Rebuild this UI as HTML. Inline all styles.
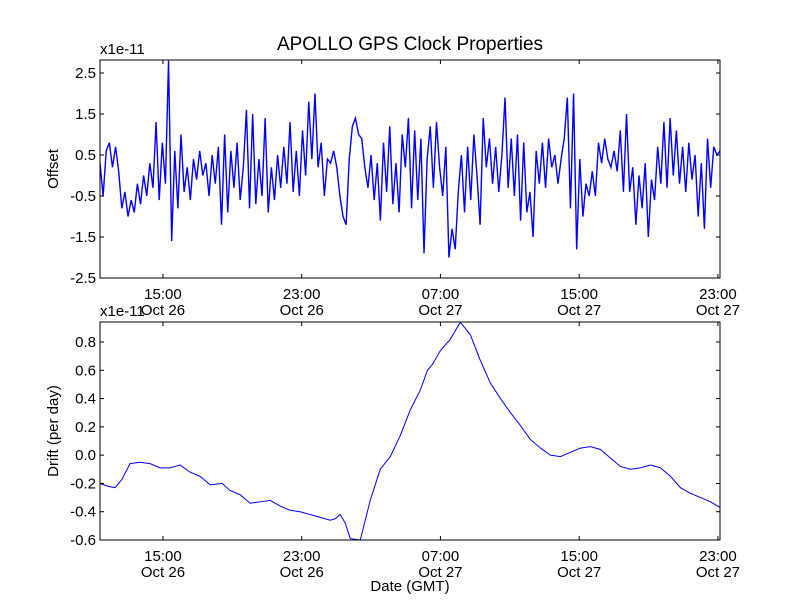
<!DOCTYPE html>
<html><head><meta charset="utf-8"><style>
body{margin:0;background:#fff}
svg text{font-family:"Liberation Sans","DejaVu Sans",sans-serif;fill:#000}
</style></head><body>
<svg id="chart" width="800" height="600" viewBox="0 0 800 600" xmlns="http://www.w3.org/2000/svg">
<rect width="800" height="600" fill="#fff"/>
<text x="410" y="50" font-size="19" text-anchor="middle">APOLLO GPS Clock Properties</text>
<g id="top"></g>
<g id="bot"></g>
<text x="410" y="591" font-size="15" text-anchor="middle">Date (GMT)</text>
</svg>
<script>
const offsetValues=[0.3,-0.5,0.6,0.8,0.2,0.7,0.1,-0.8,-0.4,-1.0,
-0.6,-0.9,-0.2,-0.7,0.0,-0.5,0.3,-0.3,1.3,-0.6,
0.8,-0.2,2.8,-1.6,0.6,-0.8,1.0,-0.4,0.2,-0.6,
0.4,-0.1,0.6,0.0,0.3,-0.5,0.5,-0.2,0.7,-1.2,
1.0,-0.9,0.6,-0.3,0.8,-0.6,0.2,1.6,-0.8,1.5,
-0.7,0.4,-0.5,1.4,-0.9,0.2,-0.6,0.5,-0.3,0.7,
-0.2,1.3,-0.4,0.6,-0.5,1.1,0.0,1.8,0.4,2.0,
0.2,0.8,-0.5,0.4,0.3,0.6,0.2,-0.5,-1.0,-1.2,
0.4,1.2,1.4,1.0,0.9,0.2,-0.3,0.5,-0.6,0.3,
-1.1,0.8,-0.4,1.2,-0.7,0.3,-0.9,1.0,0.2,1.4,
-0.8,1.1,-0.6,0.9,-1.9,0.4,1.2,-0.3,1.3,0.2,
-0.5,0.7,-2.0,-1.3,-1.8,-0.4,0.5,-0.9,0.7,-0.6,
1.0,0.0,-1.2,1.4,0.2,0.9,-0.2,0.7,-0.4,0.5,
1.9,-0.3,0.9,-0.5,1.0,-1.1,0.8,-0.9,-0.4,-1.5,
0.6,-0.2,0.8,-0.3,0.9,0.2,0.5,-0.2,0.4,0.9,
1.9,-0.8,2.0,-1.8,0.4,-1.0,-0.2,-0.5,0.1,-0.5,
0.8,0.3,0.9,0.4,0.2,0.6,0.1,1.1,-0.4,1.5,
-0.4,0.2,-1.2,0.0,-0.8,0.3,-1.5,-0.1,-0.6,0.7,
-0.2,1.3,-0.3,1.4,0.0,1.1,-0.2,0.7,-0.4,0.8,
-0.1,0.5,-1.0,0.3,-1.3,0.9,-0.3,0.7,0.5,0.6];
// drift: hours since Oct 26 00:00, value (x1e-11)
const driftHours=[11.37,11.83,12.24,12.64,13.1,13.68,14.26,14.83,15.41,15.99,16.56,17.14,17.72,18.41,18.87,19.45,20.03,20.6,21.18,21.76,22.33,22.91,23.49,24.07,24.64,24.93,25.22,25.51,25.8,26.38,26.95,27.53,28.11,28.69,29.26,29.84,30.25,30.53,31.0,31.57,32.15,32.73,33.3,33.88,34.46,35.04,35.61,36.19,36.77,37.34,37.92,38.5,39.07,39.65,40.23,40.8,41.38,41.96,42.53,43.11,43.69,44.27,44.84,45.42,46.0,46.57,47.12];
const driftValues=[-0.2,-0.22,-0.23,-0.17,-0.06,-0.05,-0.06,-0.09,-0.09,-0.07,-0.12,-0.15,-0.21,-0.2,-0.25,-0.28,-0.34,-0.33,-0.32,-0.36,-0.39,-0.4,-0.42,-0.44,-0.46,-0.45,-0.42,-0.48,-0.59,-0.6,-0.32,-0.1,-0.01,0.14,0.32,0.46,0.6,0.64,0.74,0.82,0.94,0.85,0.67,0.51,0.4,0.3,0.21,0.11,0.05,0,-0.01,0.02,0.05,0.06,0.04,-0.02,-0.08,-0.1,-0.09,-0.07,-0.09,-0.15,-0.23,-0.27,-0.3,-0.33,-0.37];
const xTickHours=[15,23,31,39,47];
const xTickTimes=["15:00","23:00","07:00","15:00","23:00"];
const xTickDates=["Oct 26","Oct 26","Oct 27","Oct 27","Oct 27"];
const offTicks=[2.5,1.5,0.5,-0.5,-1.5,-2.5];
const offTickLabels=["2.5","1.5","0.5","-0.5","-1.5","-2.5"];
const driftTicks=[0.8,0.6,0.4,0.2,0.0,-0.2,-0.4,-0.6];
const driftTickLabels=["0.8","0.6","0.4","0.2","0.0","-0.2","-0.4","-0.6"];

const NS="http://www.w3.org/2000/svg";
const X0=100,X1=720,H0=11.37,H1=47.12;
const xs=h=>X0+(h-H0)/(H1-H0)*(X1-X0);
function mk(p,t,a){const e=document.createElementNS(NS,t);for(const k in a)e.setAttribute(k,a[k]);p.appendChild(e);return e;}
function panel(g,top,bot,vmin,vmax,ticks,labels,ylabel,hours,vals,name,sw){
  const ys=v=>bot-(v-vmin)/(vmax-vmin)*(bot-top);
  let d="";
  for(let i=0;i<vals.length;i++){d+=(i?"L":"M")+xs(hours[i]).toFixed(2)+","+ys(vals[i]).toFixed(2);}
  const cp=mk(g,"clipPath",{id:"cp"+name});mk(cp,"rect",{x:X0,y:top,width:X1-X0,height:bot-top});
  const line=mk(g,"path",{d:d,fill:"none",stroke:"#0000ff","stroke-width":sw,"clip-path":"url(#cp"+name+")"});
  
  
  const fr=mk(g,"rect",{x:X0,y:top,width:X1-X0,height:bot-top,fill:"none",stroke:"#000","stroke-width":"1"});
  
  
  ticks.forEach((v,i)=>{const y=ys(v);
    mk(g,"line",{x1:X0,x2:X0+4,y1:y,y2:y,stroke:"#000"});mk(g,"line",{x1:X1-4,x2:X1,y1:y,y2:y,stroke:"#000"});
    const t=mk(g,"text",{x:X0-4,y:y+5,"font-size":"15","text-anchor":"end"});t.textContent=labels[i];
    
    
  });
  xTickHours.forEach((h,i)=>{const x=xs(h);
    mk(g,"line",{x1:x,x2:x,y1:bot,y2:bot-4,stroke:"#000"});mk(g,"line",{x1:x,x2:x,y1:top,y2:top+4,stroke:"#000"});
    const t=mk(g,"text",{x:x,y:bot+21,"font-size":"15","text-anchor":"middle"});t.textContent=xTickTimes[i];
    
    
    const t2=mk(g,"text",{x:x,y:bot+37,"font-size":"15","text-anchor":"middle"});t2.textContent=xTickDates[i];
    
    
  });
  const ex=mk(g,"text",{x:X0,y:top-6,"font-size":"15"});ex.textContent="x1e-11";
  
  
  const cy=(top+bot)/2;
  const yl=mk(g,"text",{x:58,y:cy,"font-size":"15","text-anchor":"middle",transform:"rotate(-90 58 "+cy+")"});yl.textContent=ylabel;
  
  
}
const offHours=offsetValues.map((v,i)=>H0+i*(H1-H0)/(offsetValues.length-1));
panel(document.getElementById("top"),60,278,-2.5,2.5+13/41,offTicks,offTickLabels,"Offset",offHours,offsetValues,"offset","1.4");
panel(document.getElementById("bot"),322,540,-0.6,0.8+20/141.4,driftTicks,driftTickLabels,"Drift (per day)",driftHours,driftValues,"drift","1");
</script>
</body></html>
